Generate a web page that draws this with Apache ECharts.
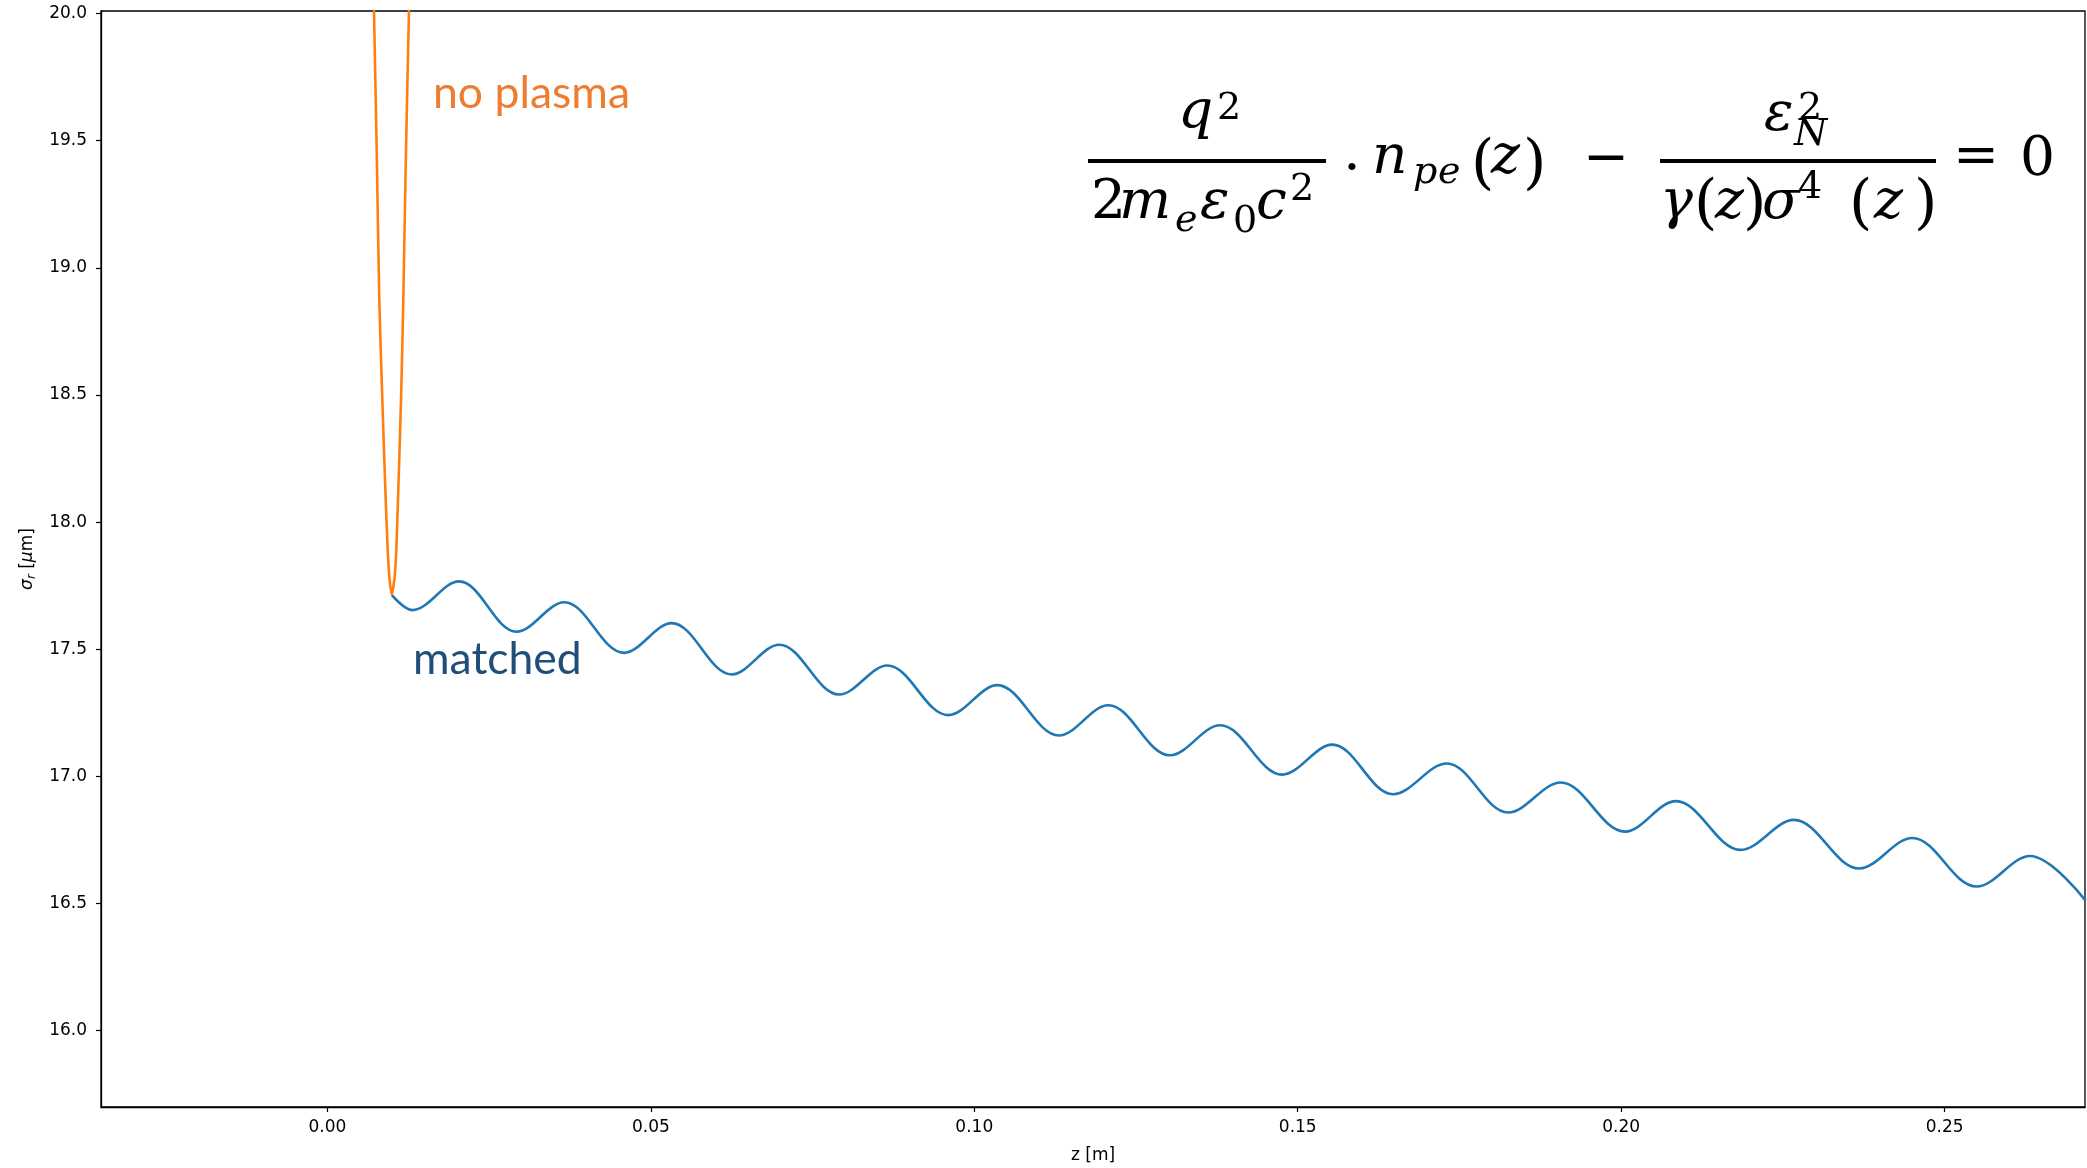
<!DOCTYPE html>
<html>
<head>
<meta charset="utf-8">
<script src="https://cdn.jsdelivr.net/npm/echarts@6/dist/echarts.min.js"></script>
<style>
  html, body { margin: 0; padding: 0; background: #fff; }
  #chart { width: 2087px; height: 1168px; }
</style>
</head>
<body>
<div id="chart"></div>
<script>
// ---- data ----
const zMatched = [0.00994, 0.01312, 0.02034, 0.02926, 0.03662, 0.04585, 0.05322, 0.0625, 0.06986, 0.07913,
  0.08655, 0.09598, 0.10356, 0.1131, 0.12071, 0.13025, 0.138, 0.14761, 0.15534, 0.16477,
  0.17303, 0.18255, 0.19065, 0.20059, 0.20847, 0.21847, 0.22671, 0.2368, 0.245, 0.25495, 0.2632, 0.2718];
const sigmaMatched = [17.714, 17.654, 17.767, 17.569, 17.685, 17.486, 17.603, 17.401, 17.518, 17.322,
  17.436, 17.241, 17.359, 17.161, 17.280, 17.083, 17.201, 17.007, 17.125, 16.930,
  17.051, 16.858, 16.976, 16.783, 16.903, 16.711, 16.829, 16.638, 16.758, 16.567, 16.687, 16.511];

const zNoPlasma = [0.00717, 0.00762, 0.00802, 0.00849, 0.00901, 0.00932, 0.00957, 0.00994,
  0.0104, 0.01065, 0.01091, 0.01138, 0.01173, 0.01215, 0.01264];
const sigmaNoPlasma = [20.05, 19.463, 18.874, 18.481, 18.088, 17.892, 17.787, 17.715,
  17.787, 17.892, 18.088, 18.481, 18.874, 19.463, 20.05];

const xTicks = [0.00, 0.05, 0.10, 0.15, 0.20, 0.25];
const yTicks = [16.0, 16.5, 17.0, 17.5, 18.0, 18.5, 19.0, 19.5, 20.0];

const xRange = [-0.035, 0.2717];
const yRange = [15.7, 20.01];

// ---- formula pieces (text, left x, baseline, size, italic) ----
const F = 55, S = 38, P = 60;
const formulaPieces = [
  ['q', 1178, 133, F, true], ['2', 1217, 122, S, false],
  ['2', 1091, 223, F, false], ['m', 1119, 223, F, true], ['e', 1175, 234, S, true],
  ['ε', 1200, 223, F, true], ['0', 1233, 235, S, false], ['c', 1256, 223, F, true], ['2', 1290, 203, S, false],
  ['n', 1372, 178, F, true], ['p', 1413, 186, S, true], ['e', 1438, 186, S, true],
  ['(', 1471, 187, P, false], ['z', 1491, 178, F, true], [')', 1523, 187, P, false],
  ['ε', 1764, 135, F, true], ['2', 1798, 122, S, false], ['N', 1794, 148, S, true],
  ['γ', 1660, 223, F, true], ['(', 1694, 227, P, false], ['z', 1715, 223, F, true], [')', 1743, 227, P, false],
  ['σ', 1762, 223, F, true], ['4', 1798, 201, S, false],
  ['(', 1849, 227, P, false], ['z', 1874, 223, F, true], [')', 1914, 227, P, false],
  ['0', 2020, 180, F, false]
];

const K = 0.346; // em-middle above baseline
const serif = '"DejaVu Serif", "Liberation Serif", serif';
function glyph(t, x, yMid, size, italic, align) {
  return {
    type: 'text', x: x, y: yMid, silent: true,
    style: {
      text: t, fill: '#000', fontFamily: serif, fontSize: size,
      fontStyle: italic ? 'italic' : 'normal',
      align: align || 'left', verticalAlign: 'middle',
      textAlign: align || 'left', textVerticalAlign: 'middle'
    }
  };
}

const graphics = formulaPieces.map(p => glyph(p[0], p[1], p[2] - K * p[3], p[3], p[4]));
graphics.push(glyph('·', 1352, 171, F, false, 'center'));
graphics.push(glyph('−', 1606, 161, F, false, 'center'));
graphics.push(glyph('=', 1976, 159, F, false, 'center'));
graphics.push({ type: 'rect', silent: true, shape: { x: 1088, y: 159, width: 238, height: 4 }, style: { fill: '#000' } });
graphics.push({ type: 'rect', silent: true, shape: { x: 1660, y: 159, width: 276, height: 4 }, style: { fill: '#000' } });

const lato = 'Lato, "Open Sans", sans-serif';
const LS = 44.5;
function label(t, x, base, color) {
  return {
    type: 'text', x: x, y: base - 0.387 * LS, silent: true,
    style: { text: t, fill: color, fontFamily: lato, fontSize: LS,
      align: 'left', verticalAlign: 'middle', textAlign: 'left', textVerticalAlign: 'middle' }
  };
}
graphics.push(label('no plasma', 433, 111, '#ED7D31'));
graphics.push(label('matched', 413, 677, '#1F4E79'));

const tickFont = { fontFamily: '"DejaVu Sans", sans-serif', fontSize: 17, color: '#000' };

const chart = echarts.init(document.getElementById('chart'), null, { renderer: 'canvas' });
chart.setOption({
  animation: false,
  backgroundColor: '#fff',
  grid: {
    left: 101, right: 2, top: 11, bottom: 61,
    show: true, borderColor: '#000', borderWidth: 1.3,
    containLabel: false, outerBoundsMode: 'none'
  },
  xAxis: {
    type: 'value', min: xRange[0], max: xRange[1],
    axisLine: { show: true, onZero: false, lineStyle: { color: '#000', width: 1.3 } },
    axisTick: { show: true, length: 5, customValues: xTicks, lineStyle: { color: '#000', width: 1.2 } },
    axisLabel: Object.assign({ customValues: xTicks, margin: 12, formatter: v => v.toFixed(2) }, tickFont),
    splitLine: { show: false },
    name: 'z [m]', nameLocation: 'middle', nameGap: 40,
    nameTextStyle: tickFont
  },
  yAxis: {
    type: 'value', min: yRange[0], max: yRange[1],
    axisLine: { show: true, onZero: false, lineStyle: { color: '#000', width: 1.3 } },
    axisTick: { show: true, length: 5, customValues: yTicks, lineStyle: { color: '#000', width: 1.2 } },
    axisLabel: Object.assign({ customValues: yTicks, margin: 14, formatter: v => v.toFixed(1) }, tickFont),
    splitLine: { show: false },
    name: '{s|σ}{r|r} [{s|μ}m]', nameLocation: 'middle', nameGap: 61, nameRotate: 90,
    nameTextStyle: Object.assign({
      rich: {
        s: { fontFamily: '"DejaVu Sans", sans-serif', fontSize: 17, fontStyle: 'italic', color: '#000' },
        r: { fontFamily: '"DejaVu Sans", sans-serif', fontSize: 12, fontStyle: 'italic', color: '#000', verticalAlign: 'bottom', lineHeight: 22 }
      }
    }, tickFont)
  },
  series: [
    {
      name: 'matched', type: 'line', showSymbol: false, smooth: 0.36,
      data: zMatched.map((z, i) => [z, sigmaMatched[i]]),
      lineStyle: { color: '#1f77b4', width: 2.6 }, itemStyle: { color: '#1f77b4' }, clip: true
    },
    {
      name: 'no plasma', type: 'line', showSymbol: false, smooth: 0.25,
      data: zNoPlasma.map((z, i) => [z, sigmaNoPlasma[i]]),
      lineStyle: { color: '#ff7f0e', width: 2.6 }, itemStyle: { color: '#ff7f0e' }, clip: true
    }
  ],
  graphic: { elements: graphics }
});
</script>
</body>
</html>
